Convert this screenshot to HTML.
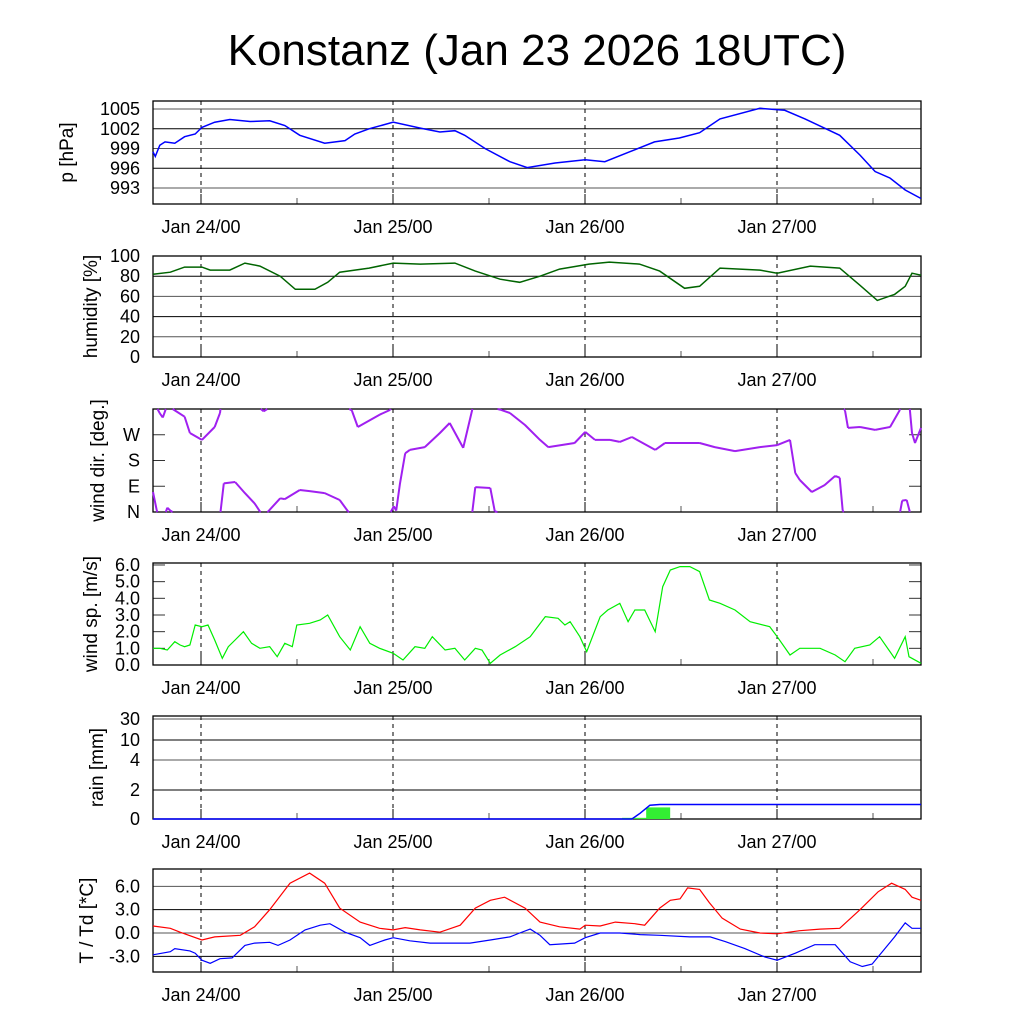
<!DOCTYPE html>
<html><head><meta charset="utf-8"><style>
html,body{margin:0;padding:0;background:#fff;}
svg{display:block;font-family:"Liberation Sans",sans-serif;}
</style></head><body>
<svg id="chart" width="1024" height="1024" viewBox="0 0 1024 1024">
<text x="537" y="65" font-size="44" text-anchor="middle">Konstanz (Jan 23 2026 18UTC)</text>
</svg>
<script>
// ---- data: times were read in "ticks" (1 tick = 96/102 h) since Jan 23 18UTC ----
const TICK_TO_HOURS = 96/102;
function toHours(t){ return t*TICK_TO_HOURS; }
const dayLabels = ["Jan 24/00","Jan 25/00","Jan 26/00","Jan 27/00"];
const dayHours = [6,30,54,78];
const presT = [0,0.3,0.9,1.6,2.9,4.2,5.6,6.5,8.2,10.2,12.9,15.5,17.5,19.5,22.8,25.5,26.8,28.7,31.9,35.5,38.1,40.1,41.4,44.1,47.4,49.7,53.4,57.4,60.0,63.3,66.6,69.9,72.6,75.3,80.6,83.9,86.6,91.2,93.9,95.9,97.9,99.9,102].map(toHours);
const presV = [998.5,997.8,999.5,1000,999.8,1000.8,1001.2,1002.2,1003,1003.4,1003.1,1003.2,1002.5,1001,999.8,1000.2,1001.2,1002,1003,1002.1,1001.5,1001.7,1001,999,997,996.1,996.8,997.3,997,998.5,1000,1000.6,1001.4,1003.5,1005.1,1004.8,1003.5,1001,998,995.5,994.5,992.7,991.4];
const presTicks = [1005,1002,999,996,993];
const humT = [0,2.3,4.2,6.5,7.6,10.2,12.2,14.2,16.9,18.9,21.5,23.2,24.8,28.7,31.9,35.5,40.1,42.8,46.1,48.7,51.4,54,57.9,60.6,64.6,67.3,70.6,72.6,75.3,80.6,82.9,87.3,91.2,93.9,96.2,98.5,99.9,100.8,102].map(toHours);
const humV = [82,84,89,89,86,86,93,90,80,67,67,74,84,88,93,92,93,85,77,74,80,87,92,94,92,85,68,70,88,86,83,90,88,71,56,62,70,83,81];
const humTicks = [100,80,60,40,20,0];
const dirT = [0,0.5,0.9,1.3,1.9,2.3,2.9,4.2,4.9,6.5,8.2,8.9,9.4,10.9,12.2,13.5,14.2,14.7,15.3,16.9,17.5,19.5,20.8,22.8,24.8,25.9,26.4,27.2,28.8,30.1,31.5,32.0,32.3,32.8,33.5,34.1,36.1,38.1,39.4,41.2,42.4,42.8,44.8,45.4,46.1,47.4,49.4,51.4,52.5,56.0,57.4,58.7,60.7,62.0,63.6,66.7,68.0,72.6,74.6,77.3,80.6,82.9,84.6,85.3,85.9,87.5,89.2,90.6,91.2,91.6,91.9,92.3,93.9,95.9,97.9,99.2,99.5,100.1,100.5,100.8,101.2,102].map(toHours);
const dirV = [430,365,345,330,375,365,355,333,276,252,297,346,460,465,426,390,362,352,362,408,405,437,433,426,402,362,355,297,321,340,357,380,365,460,565,577,587,636,671,584,717,807,804,722,718,706,664,612,587,601,640,612,612,605,622,577,601,601,587,573,587,594,612,496,472,430,454,486,480,365,355,294,297,287,297,357,400,402,362,276,241,294];
const dirTickLabels = ["N","E","S","W"];
const dirTickVals = [0,90,180,270];
const spdT = [0,0.9,1.9,2.9,3.6,4.2,4.9,5.6,6.5,7.3,8.2,9.2,10.0,10.9,12.0,13.1,14.2,15.5,16.5,17.5,18.5,19.1,20.8,22.2,23.2,24.8,26.2,27.5,28.8,30.1,31.9,33.2,34.8,36.1,37.1,38.8,40.1,41.4,42.8,43.7,44.8,46.1,48.1,50.1,52.1,53.8,54.7,55.4,56.7,57.6,59.4,60.4,62.0,63.1,64.0,65.3,66.7,67.7,68.7,70.0,71.3,72.6,73.9,75.3,77.3,79.3,81.9,82.9,84.6,85.9,88.6,90.6,91.9,93.2,95.2,96.5,98.5,99.9,100.4,102].map(toHours);
const spdV = [1.0,1.0,0.9,1.4,1.2,1.1,1.2,2.4,2.3,2.4,1.5,0.4,1.1,1.5,2.0,1.3,1.0,1.1,0.5,1.3,1.1,2.4,2.5,2.7,3.0,1.7,0.9,2.3,1.3,1.0,0.7,0.3,1.1,1.0,1.7,0.9,1.0,0.3,1.0,0.9,0.1,0.6,1.1,1.7,2.9,2.8,2.4,2.6,1.7,0.8,2.9,3.3,3.7,2.6,3.3,3.3,2.0,4.7,5.7,5.9,5.9,5.6,3.9,3.7,3.3,2.6,2.3,1.7,0.6,1.0,1.0,0.6,0.2,1.0,1.2,1.7,0.4,1.7,0.5,0.1];
const spdTicks = [6,5,4,3,2,1,0];
const rainCumT = [0,63.6,64.7,66.0,67.3,102].map(toHours);
const rainCumV = [0,0,0.4,0.95,1.0,1.0];
const rainBarT = [62.3,65.5].map(toHours);
const rainBarV = [0.08,0.8];
const rainBarW = 3;
const rainTicks = [30,10,4,2,0];
const tempT = [0,2.3,3.6,6.5,8.2,11.6,13.5,15.5,18.2,20.8,22.8,24.8,27.5,30.1,31.9,33.5,35.5,38.1,40.8,42.8,44.8,46.7,49.4,51.4,54.0,56.7,57.4,59.4,61.4,64.0,65.3,67.3,68.7,70.0,71.0,72.6,73.9,75.6,78.0,80.6,82.9,85.9,88.6,91.2,93.9,96.3,98.1,99.9,100.8,102].map(toHours);
const tempV = [0.9,0.6,0.1,-0.9,-0.5,-0.3,0.8,3.0,6.4,7.7,6.4,3.2,1.4,0.6,0.4,0.7,0.4,0.1,1.0,3.2,4.2,4.6,3.2,1.4,0.8,0.5,1.0,0.9,1.4,1.2,1.0,3.2,4.2,4.4,5.8,5.6,3.9,1.9,0.5,0.0,-0.1,0.3,0.5,0.6,3.0,5.3,6.4,5.6,4.6,4.2];
const dewT = [0,2.3,2.9,4.9,5.6,6.5,7.6,8.9,10.5,12.2,13.5,15.5,16.6,18.2,20.2,22.2,23.5,25.5,27.5,28.8,30.8,31.9,34.1,36.8,39.4,42.1,44.8,47.4,48.7,50.1,51.4,52.7,56.0,57.4,59.4,62.0,64.7,67.3,71.3,74.0,76.0,78.6,81.3,82.9,85.3,87.9,90.6,92.6,94.2,95.5,97.2,98.5,99.9,100.8,102].map(toHours);
const dewV = [-2.8,-2.4,-2.0,-2.3,-2.6,-3.5,-3.9,-3.3,-3.2,-1.6,-1.3,-1.2,-1.6,-0.9,0.4,1.0,1.2,0.1,-0.6,-1.6,-0.9,-0.6,-1.0,-1.3,-1.3,-1.3,-0.9,-0.5,0.0,0.5,-0.3,-1.5,-1.3,-0.6,0.0,0.0,-0.2,-0.3,-0.5,-0.5,-1.1,-2.0,-3.1,-3.5,-2.6,-1.5,-1.5,-3.7,-4.3,-4.0,-2.0,-0.5,1.3,0.6,0.6];
const tempTicks = [6,3,0,-3];
const tempTickLabels = ["6.0","3.0","0.0","-3.0"];

// ---- layout ----
const NS = "http://www.w3.org/2000/svg";
const svg = document.getElementById("chart");
const X0 = 153, X1 = 921, HMAX = 96;
function xs(h){ return X0 + h*(X1-X0)/HMAX; }
function mk(tag, attrs, parent){
  const e = document.createElementNS(NS, tag);
  for (const k in attrs) e.setAttribute(k, attrs[k]);
  (parent||svg).appendChild(e);
  return e;
}
function rainY(v){
  const vs=[0,2,4,10,30], ys=[819,790,760,740,719];
  for(let i=0;i<vs.length-1;i++){
    if(v<=vs[i+1]) return ys[i]+(v-vs[i])/(vs[i+1]-vs[i])*(ys[i+1]-ys[i]);
  }
  return 719;
}
const panels = [
  {id:"pressure", top:101, bot:204, title:"p [hPa]", tx:73, y:v=>109+(1005-v)*79/12},
  {id:"humidity", top:256, bot:357, title:"humidity [%]", tx:97, y:v=>357-v*1.01},
  {id:"wind-dir", top:409, bot:512, title:"wind dir. [deg.]", tx:104, y:v=>512-v*103/360},
  {id:"wind-speed", top:563, bot:665, title:"wind sp. [m/s]", tx:97, y:v=>665-v*16.67},
  {id:"rain", top:716, bot:819, title:"rain [mm]", tx:103, y:rainY},
  {id:"temperature", top:869, bot:972, title:"T / Td [*C]", tx:93, y:v=>933-v*7.78}
];
function path(ts, vs, yf){
  let d="";
  const n=Math.min(ts.length,vs.length);
  for(let i=0;i<n;i++) d+=(i?"L":"M")+xs(ts[i]).toFixed(1)+","+yf(vs[i]).toFixed(1);
  return d;
}

panels.forEach((p)=>{
  const g = mk("g",{});
  
  
  let tv, tl;
  if(p.id==="pressure"){tv=presTicks; tl=presTicks.map(String);}
  if(p.id==="humidity"){tv=humTicks; tl=humTicks.map(String);}
  if(p.id==="wind-dir"){tv=dirTickVals; tl=dirTickLabels;}
  if(p.id==="wind-speed"){tv=spdTicks; tl=spdTicks.map(v=>v.toFixed(1));}
  if(p.id==="rain"){tv=rainTicks; tl=rainTicks.map(String);}
  if(p.id==="temperature"){tv=tempTicks; tl=tempTickLabels;}
  tv.forEach((v,i)=>{
    const y=p.y(v);
    if(p.id==="pressure"||p.id==="humidity"||p.id==="rain"||p.id==="temperature"){
      const gl=mk("line",{x1:X0,x2:X1,y1:y,y2:y,stroke:(i%2?"#000":"#555"),"stroke-width":1},g);
      
      
    } else {
      mk("line",{x1:X0,x2:X0+12,y1:y,y2:y,stroke:"#333","stroke-width":1},g);
      mk("line",{x1:X1-12,x2:X1,y1:y,y2:y,stroke:"#333","stroke-width":1},g);
    }
    const t=mk("text",{x:140,y:y+6,"font-size":18,"text-anchor":"end"},g);
    t.textContent=tl[i];
    
    
  });
  const cy=(p.top+p.bot)/2;
  const tt=mk("text",{x:p.tx,y:cy,"font-size":19,"text-anchor":"middle",transform:`rotate(-90 ${p.tx} ${cy})`},g);
  tt.textContent=p.title;
  
  
  dayHours.forEach((h,i)=>{
    const x=xs(h);
    mk("line",{x1:x,x2:x,y1:p.top,y2:p.bot,stroke:"#000","stroke-width":1,"stroke-dasharray":"4,4"},g);
    mk("line",{x1:x,x2:x,y1:p.bot-10,y2:p.bot,stroke:"#000","stroke-width":1},g);
    const lb=mk("text",{x:x,y:p.bot+29,"font-size":18,"text-anchor":"middle"},g);
    lb.textContent=dayLabels[i];
    
    
    const xn=xs(h+12);
    mk("line",{x1:xn,x2:xn,y1:p.bot-6,y2:p.bot,stroke:"#555","stroke-width":1},g);
  });
  const fr=mk("rect",{x:X0,y:p.top,width:X1-X0,height:p.bot-p.top,fill:"none",stroke:"#000","stroke-width":1.3},g);
  
  
});

const P=panels;
let s;
s=mk("path",{d:path(presT,presV,P[0].y),fill:"none",stroke:"#0000ff","stroke-width":1.5});


s=mk("path",{d:path(humT,humV,P[1].y),fill:"none",stroke:"#006400","stroke-width":1.5});



(function(){
  let d="";
  const n=Math.min(dirT.length,dirV.length);
  const yf=P[2].y;
  for(let i=0;i<n-1;i++){
    const t0=dirT[i],v0=dirV[i],t1=dirT[i+1],v1=dirV[i+1];
    const k0=Math.floor(v0/360),k1=Math.floor(v1/360);
    const pts=[[t0,v0]];
    if(k1>k0){ for(let k=k0+1;k<=k1;k++){ const b=k*360; const tb=t0+(b-v0)/(v1-v0)*(t1-t0); pts.push([tb,b-0.001],[tb,b+0.001]); } }
    else if(k1<k0){ for(let k=k0;k>k1;k--){ const b=k*360; const tb=t0+(b-v0)/(v1-v0)*(t1-t0); pts.push([tb,b+0.001],[tb,b-0.001]); } }
    pts.push([t1,v1]);
    for(let j=0;j<pts.length-1;j++){
      const a=pts[j],b=pts[j+1];
      if(Math.floor(a[1]/360)!==Math.floor(b[1]/360)) continue;
      const ma=((a[1]%360)+360)%360, mb=((b[1]%360)+360)%360;
      d+="M"+xs(a[0]).toFixed(1)+","+yf(ma).toFixed(1)+"L"+xs(b[0]).toFixed(1)+","+yf(mb).toFixed(1);
    }
  }
  s=mk("path",{d:d,fill:"none",stroke:"#a020f0","stroke-width":2});
  
  
})();

s=mk("path",{d:path(spdT,spdV,P[3].y),fill:"none",stroke:"#00ee00","stroke-width":1.2});



rainBarT.forEach((t,i)=>{
  const y=P[4].y(rainBarV[i]);
  const r=mk("rect",{x:xs(t),y:y,width:xs(t+rainBarW)-xs(t),height:819-y,fill:"#33ee33"});
  
  
});
s=mk("path",{d:path(rainCumT,rainCumV,P[4].y),fill:"none",stroke:"#0000ff","stroke-width":1.5});



s=mk("path",{d:path(tempT,tempV,P[5].y),fill:"none",stroke:"#ff0000","stroke-width":1.2});


s=mk("path",{d:path(dewT,dewV,P[5].y),fill:"none",stroke:"#0000ff","stroke-width":1.2});


</script>
</body></html>
